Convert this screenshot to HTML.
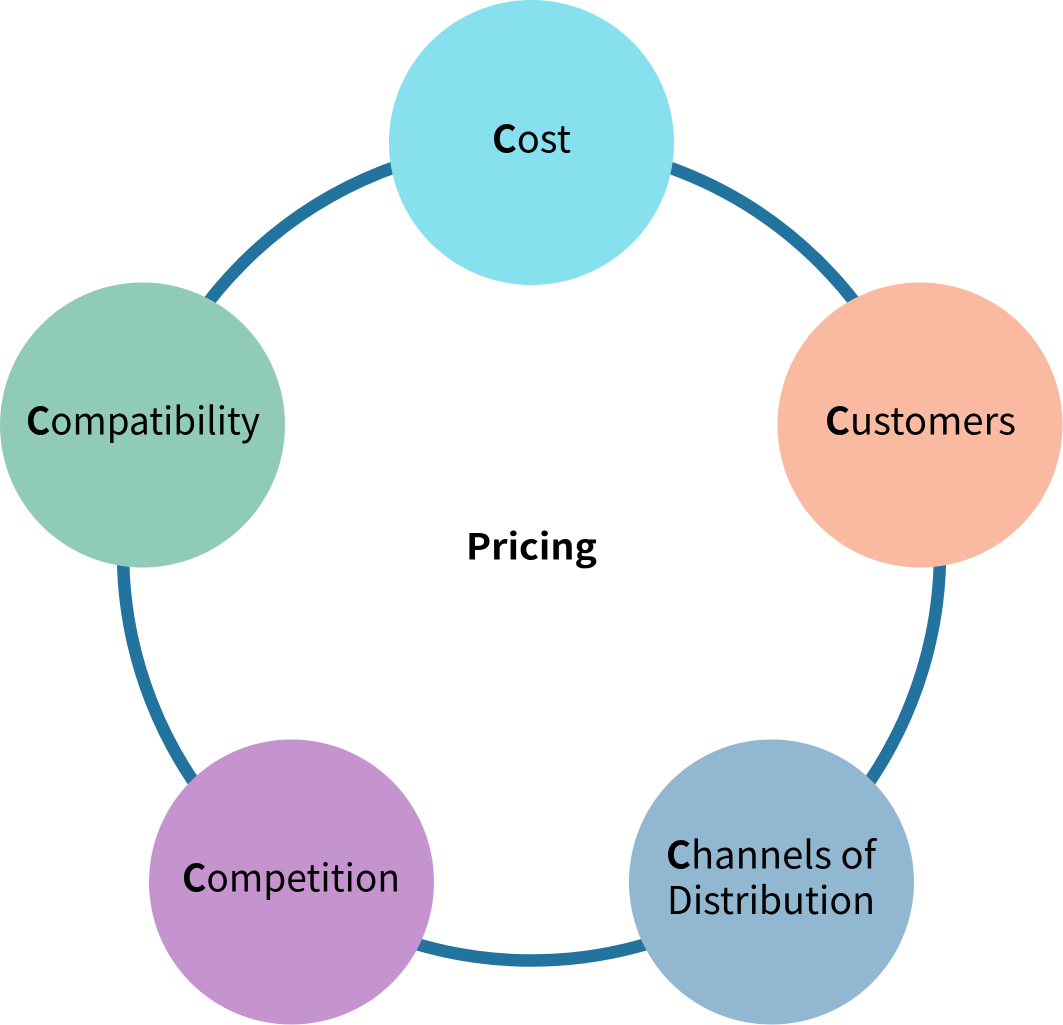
<!DOCTYPE html>
<html>
<head>
<meta charset="utf-8">
<style>
html,body{margin:0;padding:0;background:#fff;width:1063px;height:1025px;overflow:hidden}
svg{display:block}
text{font-family:"Noto Sans CJK JP","Liberation Sans",sans-serif;font-size:38px;fill:#000}
tspan.b{font-weight:700}
text.b{font-weight:700;font-size:35.5px}
</style>
</head>
<body>
<svg width="1063" height="1025" viewBox="0 0 1063 1025" xmlns="http://www.w3.org/2000/svg">
<circle cx="531.5" cy="552" r="408.5" fill="none" stroke="#23739F" stroke-width="12.5"/>
<circle cx="531.5" cy="142.5" r="142.5" fill="#87E0EE"/>
<circle cx="920" cy="425" r="142.5" fill="#F9BAA1"/>
<circle cx="771.5" cy="882" r="142.5" fill="#92B7D0"/>
<circle cx="291.5" cy="882" r="142.5" fill="#C594CF"/>
<circle cx="142.5" cy="425" r="142.5" fill="#90CAB9"/>
<text x="492" y="152.5" textLength="79" lengthAdjust="spacingAndGlyphs"><tspan class="b">C</tspan>ost</text>
<text x="825" y="434.5" textLength="191" lengthAdjust="spacingAndGlyphs"><tspan class="b">C</tspan>ustomers</text>
<text x="666" y="868.5" textLength="210" lengthAdjust="spacingAndGlyphs"><tspan class="b">C</tspan>hannels of</text>
<text x="667" y="914" textLength="208" lengthAdjust="spacingAndGlyphs">Distribution</text>
<text x="182" y="891.5" textLength="218" lengthAdjust="spacingAndGlyphs"><tspan class="b">C</tspan>ompetition</text>
<text x="26" y="434.5" textLength="234" lengthAdjust="spacingAndGlyphs"><tspan class="b">C</tspan>ompatibility</text>
<text class="b" x="466" y="559.5" textLength="131" lengthAdjust="spacingAndGlyphs">Pricing</text>
</svg>
</body>
</html>
